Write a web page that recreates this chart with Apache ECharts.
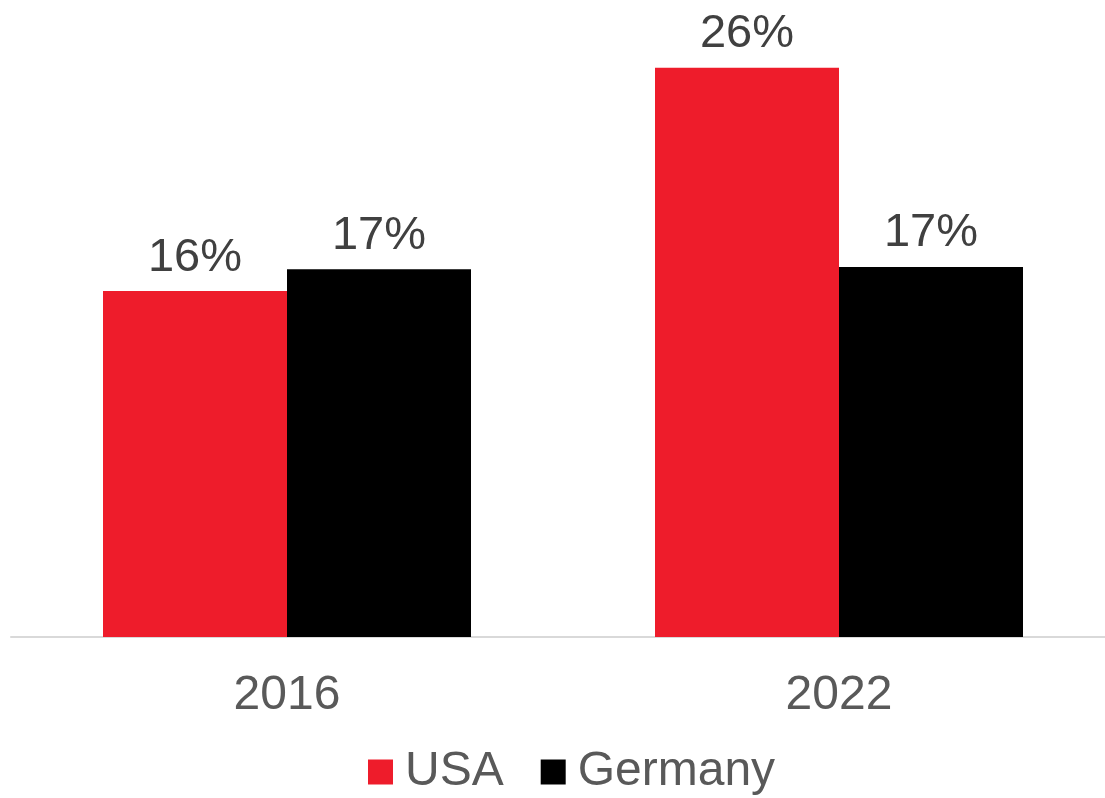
<!DOCTYPE html>
<html>
<head>
<meta charset="utf-8">
<script src="https://cdn.jsdelivr.net/npm/echarts@6/dist/echarts.min.js"></script>
<style>
html,body{margin:0;padding:0;background:#fff;}
#c{width:1105px;height:798px;}
</style>
</head>
<body>
<div id="c"></div>
<script>
const categories = ['2016', '2022'];
const usaValues = [15.8, 26.0];
const germanyValues = [16.8, 16.9];
const seriesNames = ['USA', 'Germany'];

const chart = echarts.init(document.getElementById('c'), null, {renderer: 'canvas'});
const FONT = '"Liberation Sans", Arial, sans-serif';
const labelCfg = {
  show: true,
  position: 'top',
  distance: 10,
  fontFamily: FONT,
  fontSize: 47,
  color: '#404040',
  formatter: p => Math.round(p.value) + '%'
};
chart.setOption({
  animation: false,
  backgroundColor: '#ffffff',
  grid: {left: 11, width: 1104, top: 24, bottom: 161, containLabel: false, outerBoundsMode: 'none'},
  legend: {
    data: seriesNames,
    left: 363,
    top: 743,
    itemWidth: 25,
    itemHeight: 25,
    itemGap: 37,
    icon: 'rect',
    textStyle: {fontFamily: FONT, fontSize: 48, color: '#595959', padding: [0, 0, 0, 7]}
  },
  xAxis: {
    type: 'category',
    data: categories,
    axisLine: {show: true, lineStyle: {color: '#d9d9d9', width: 2}},
    axisTick: {show: false},
    axisLabel: {fontFamily: FONT, fontSize: 48, color: '#595959', margin: 35}
  },
  yAxis: {
    type: 'value',
    min: 0,
    max: 28,
    show: false,
    splitLine: {show: false}
  },
  series: [
    {name: seriesNames[0], type: 'bar', data: usaValues, barWidth: 184, barGap: '0%',
     itemStyle: {color: '#EE1C2B'}, label: labelCfg},
    {name: seriesNames[1], type: 'bar', data: germanyValues, barWidth: 184, barGap: '0%',
     itemStyle: {color: '#000000'}, label: labelCfg}
  ]
});
</script>
</body>
</html>
